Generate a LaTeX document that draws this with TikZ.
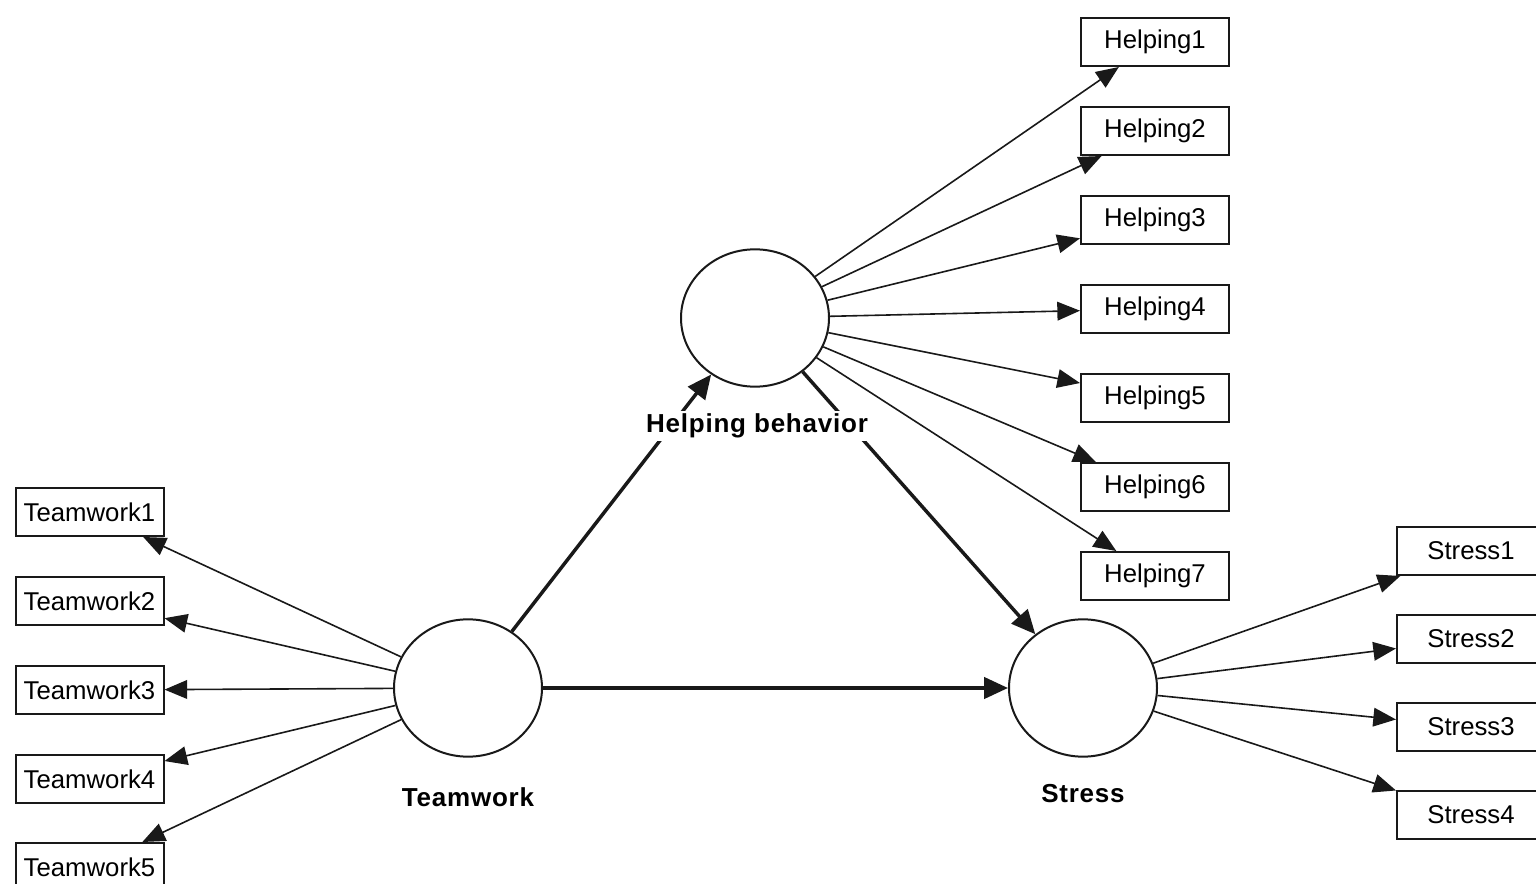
\documentclass[tikz,border=0pt]{standalone}
\usepackage{fontspec}
\setmainfont{Liberation Sans}
\usetikzlibrary{arrows.meta,shapes.geometric}
\begin{document}
\begin{tikzpicture}[x=0.75pt,y=-0.75pt,
  indicator/.style={draw=black!90, line width=1.5pt, fill=white, minimum width=111pt,
    minimum height=36pt, inner sep=0pt, font=\fontsize{19.3}{21}\selectfont},
  latent/.style={draw=black!90, ellipse, line width=1.5pt, fill=white, minimum width=111pt,
    minimum height=103pt, inner sep=0pt},
  latlabel/.style={font=\fontsize{19.5}{22}\selectfont\bfseries\addfontfeatures{LetterSpace=3},
    fill=white, inner sep=2pt},
  loading/.style={draw=black!90, line width=1.2pt, -{Triangle[length=17pt,width=14pt]}},
  structural/.style={draw=black!90, line width=2.6pt, -{Triangle[length=18pt,width=16pt]}},
]
\clip (0,0) rectangle (1536,884);
\fill[white] (0,0) rectangle (1536,884);

% latent constructs
\node[latent] (hb) at (755,318) {};
\node[latent] (tw) at (468,688) {};
\node[latent] (st) at (1083,688) {};

% indicators of helping behavior
\foreach \i/\y in {1/42,2/131,3/220,4/309,5/398,6/487,7/576}
  \node[indicator] (h\i) at (1155,\y) {Helping\i};
% indicators of teamwork
\foreach \i/\y in {1/512,2/601,3/690,4/779,5/867}
  \node[indicator] (t\i) at (89.5,\y) {Teamwork\i};
% indicators of stress
\foreach \i/\y in {1/551,2/639,3/727,4/815}
  \node[indicator] (s\i) at (1471,\y) {Stress\i};

% loadings
\foreach \i in {1,...,7} \draw[loading] (hb) -- (h\i);
\foreach \i in {1,...,5} \draw[loading] (tw) -- (t\i);
\foreach \i in {1,...,4} \draw[loading] (st) -- (s\i);

% structural paths
\draw[structural] (tw) -- (hb);
\draw[structural] (tw) -- (st);
\draw[structural] (hb) -- (st);

% construct labels
\node[latlabel] (hbl) at (757,426) {Helping behavior};
\node[latlabel] (twl) at (468,797) {Teamwork};
\node[latlabel] (stl) at (1083,794) {Stress};
\end{tikzpicture}
\end{document}
